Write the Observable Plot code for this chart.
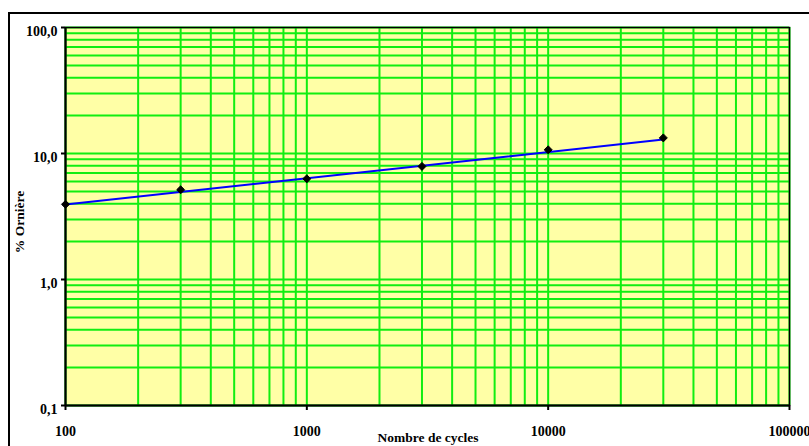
<!DOCTYPE html>
<html>
<head>
<meta charset="utf-8">
<script src="https://cdn.jsdelivr.net/npm/d3@7"></script>
<script src="https://cdn.jsdelivr.net/npm/@observablehq/plot@0.6"></script>
<style>
  html, body { margin: 0; padding: 0; background: #fff; overflow: hidden; width: 809px; height: 446px; }
  #wrap { position: relative; width: 809px; height: 446px; font-family: 'Liberation Serif', 'Times New Roman', serif; font-weight: bold; }
  #outer { position: absolute; left: 8px; top: 12px; width: 900px; height: 500px; border: 2px solid #000; pointer-events: none; }
  .title { position: absolute; font-size: 13.5px; white-space: nowrap; line-height: 1; }
  #xt { left: 428px; top: 438px; transform: translate(-50%, -50%); }
  #yt { left: 20px; top: 222px; transform: translate(-50%, -50%) rotate(-90deg); }
  svg { display: block; }
</style>
</head>
<body>
<div id="wrap"><div id="outer"></div></div>
<script>
// Measured points
const cycles = [100, 300, 1000, 3000, 10000, 30000];
const orniere = [3.95, 5.15, 6.3, 7.9, 10.7, 13.3];
// Trend line (power fit) end points
const trendCycles = [100, 30000];
const trendOrniere = [3.94, 12.9];
// Axis ticks
const xTicks = [100, 1000, 10000, 100000];
const yTicks = [0.1, 1, 10, 100];
const xTitle = "Nombre de cycles";
const yTitle = "% Ornière";

const points = cycles.map((c, i) => ({c, v: orniere[i]}));
const trend = trendCycles.map((c, i) => ({c, v: trendOrniere[i]}));

// grid values: 1..9 × each decade
const xGrid = [];
for (const d of [100, 1000, 10000]) for (let k = 1; k <= 9; k++) xGrid.push(d * k);
xGrid.push(100000);
const yGrid = [];
for (const d of [0.1, 1, 10]) for (let k = 1; k <= 9; k++) yGrid.push(+(d * k).toPrecision(3));
yGrid.push(100);

const fmtY = d => d3.format(".1f")(d).replace(".", ",");
const font = "'Liberation Serif', 'Times New Roman', serif";

const chart = Plot.plot({
  width: 809,
  height: 446,
  marginLeft: 65,
  marginRight: 20,
  marginTop: 27,
  marginBottom: 41,
  style: {fontFamily: font, fontSize: "14px", fontWeight: "bold", color: "#000", background: "transparent"},
  x: {type: "log", domain: [100, 100000]},
  y: {type: "log", domain: [0.1, 100]},
  marks: [
    Plot.frame({fill: "#FFFFA6", stroke: null}),
    Plot.ruleX(xGrid, {stroke: "#11EE11", strokeWidth: 2}),
    Plot.ruleY(yGrid, {stroke: "#11EE11", strokeWidth: 2}),
    Plot.frame({stroke: "#000", strokeWidth: 1.5}),
    Plot.axisX({ticks: xTicks, tickFormat: () => "", tickSize: 5, strokeWidth: 2, label: null}),
    Plot.axisY({ticks: yTicks, tickFormat: () => "", tickSize: 4, strokeWidth: 2, label: null}),
    Plot.text(xTicks, {x: d => d, frameAnchor: "bottom", dy: 30, text: d => String(d), fontSize: 14, fontWeight: "bold"}),
    Plot.text(yTicks, {y: d => d, frameAnchor: "left", dx: -8, dy: 4, textAnchor: "end", text: fmtY, fontSize: 14, fontWeight: "bold"}),
    Plot.ruleX([100], {stroke: "#000", strokeWidth: 2}),
    Plot.ruleY([0.1], {stroke: "#000", strokeWidth: 2}),
    Plot.line(trend, {x: "c", y: "v", stroke: "#0000FF", strokeWidth: 2}),
    Plot.dot(points, {x: "c", y: "v", symbol: "diamond2", r: 3.6, fill: "#000", stroke: "#000", strokeWidth: 1})
  ]
});
const wrap = document.getElementById("wrap");
wrap.prepend(chart);
const xt = document.createElement("div"); xt.className = "title"; xt.id = "xt"; xt.textContent = xTitle; wrap.appendChild(xt);
const yt = document.createElement("div"); yt.className = "title"; yt.id = "yt"; yt.textContent = yTitle; wrap.appendChild(yt);
</script>
</body>
</html>
